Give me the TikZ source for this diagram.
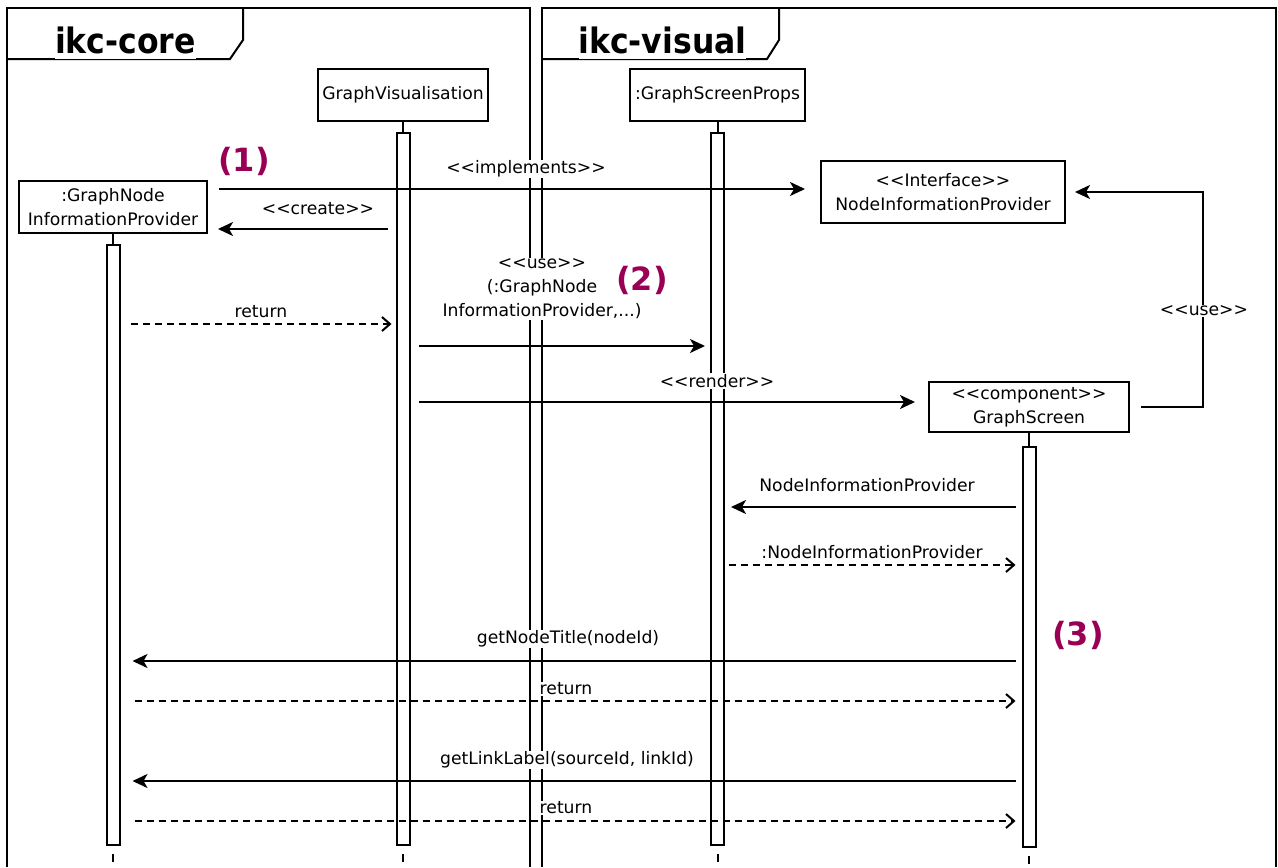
\documentclass[tikz,border=0pt]{standalone}
\usepackage{fontspec}
\setmainfont{DejaVu Sans}[Ligatures=TeXOff]
\newfontfamily\titlefont{DejaVu Sans Condensed Bold}[Ligatures=TeXOff]
\usetikzlibrary{arrows.meta,positioning}
\definecolor{stepred}{RGB}{153,0,85}

\begin{document}
\begin{tikzpicture}[x=0.5pt,y=-0.5pt,
        every node/.style={font=\fontsize{8.6pt}{12pt}\selectfont},
        frame/.style={line width=1pt},
        title/.style={font=\titlefont\fontsize{17.5pt}{20pt}\selectfont, fill=white, inner xsep=0pt, inner ysep=2.5pt, anchor=base},
        head/.style={draw, line width=1pt, fill=white, align=center, inner sep=2pt},
        bar/.style={draw, line width=1pt, fill=white, minimum width=6.5pt, inner sep=0pt, anchor=north},
        lifeline/.style={line width=1pt},
        tail/.style={line width=1pt, dash pattern=on 4pt off 4pt, dash phase=4pt},
        msg/.style={line width=1pt, -{Stealth[length=7.5pt,width=7pt,inset=2pt]}},
        reply/.style={line width=1pt, dash pattern=on 3.5pt off 2.5pt, -{Straight Barb[length=4pt,width=7pt]}},
        lbl/.style={fill=white, inner sep=0.5pt, align=center},
        stepno/.style={text=stepred, font=\bfseries\fontsize{16pt}{18pt}\selectfont}]
    \useasboundingbox (0,0) rectangle (1278,867);

    % packages
    \draw[frame] (7,867) -- (7,8) -- (530,8) -- (530,867);
    \draw[frame] (7,59) -- (230,59) -- (243,40) -- (243,8);
    \draw[frame] (542,867) -- (542,8) -- (1276,8) -- (1276,867);
    \draw[frame] (542,59) -- (767,59) -- (779,40) -- (779,8);
    \node[title] (coretitle) at (125.5,54) {ikc-core};
    \node[title] (visualtitle) at (662.5,54) {ikc-visual};

    % lifelines
    \node[head, minimum width=85pt, minimum height=26pt] (gv) at (403,95) {GraphVisualisation};
    \node[head, minimum width=87.5pt, minimum height=26pt] (gsp) at (717.5,95) {:GraphScreenProps};
    \node[head, minimum width=94pt, minimum height=26pt] (gnip) at (113,207) {:GraphNode\\InformationProvider};
    \node[head, minimum width=122pt, minimum height=31pt] (iface) at (943,192) {<<Interface>>\\NodeInformationProvider};
    \node[head, minimum width=100pt, minimum height=25pt] (gs) at (1029,407) {<<component>>\\GraphScreen};

    \node[bar, minimum height=356pt] (gvbar) at ([yshift=-5pt]gv.south) {};
    \node[bar, minimum height=356pt] (gspbar) at ([yshift=-5pt]gsp.south) {};
    \node[bar, minimum height=300pt] (gnipbar) at ([yshift=-5pt]gnip.south) {};
    \node[bar, minimum height=200pt] (gsbar) at ([yshift=-6.5pt]gs.south) {};

    \draw[lifeline] (gv) -- (gvbar);
    \draw[lifeline] (gsp) -- (gspbar);
    \draw[lifeline] (gnip) -- (gnipbar);
    \draw[lifeline] (gs) -- (gsbar);
    \draw[tail] (gvbar.south) -- ++(0,24);
    \draw[tail] (gspbar.south) -- ++(0,24);
    \draw[tail] (gnipbar.south) -- ++(0,24);
    \draw[tail] (gsbar.south) -- ++(0,22);

    % messages
    \draw[msg, shorten <=5.5pt, shorten >=7.5pt] (gnip.east |- 0,189) -- (iface.west |- 0,189);
    \draw[msg, shorten <=4pt, shorten >=5pt] (gvbar.west |- 0,229) -- (gnip.east |- 0,229);
    \draw[reply, shorten <=5pt, shorten >=2pt] (gnipbar.east |- 0,324) -- (gvbar.west |- 0,324);
    \draw[msg, shorten <=4pt, shorten >=2.5pt] (gvbar.east |- 0,346) -- (gspbar.west |- 0,346);
    \draw[msg, shorten <=4pt, shorten >=6.5pt] (gvbar.east |- 0,402) -- (gs.west |- 0,402);
    \coordinate (useturn) at (1203,192);
    \draw[msg, shorten <=5.5pt, shorten >=4.5pt] (gs.east) -| (useturn) -- (iface.east);
    \draw[msg, shorten <=3pt, shorten >=3pt] (gsbar.west |- 0,507) -- (gspbar.east |- 0,507);
    \draw[reply, shorten <=2pt, shorten >=3pt] (gspbar.east |- 0,565) -- (gsbar.west |- 0,565);
    \draw[msg, shorten <=3pt, shorten >=6pt] (gsbar.west |- 0,661) -- (gnipbar.east |- 0,661);
    \draw[reply, shorten <=7pt, shorten >=3pt] (gnipbar.east |- 0,701) -- (gsbar.west |- 0,701);
    \draw[msg, shorten <=3pt, shorten >=6pt] (gsbar.west |- 0,781) -- (gnipbar.east |- 0,781);
    \draw[reply, shorten <=7pt, shorten >=3pt] (gnipbar.east |- 0,821) -- (gsbar.west |- 0,821);

    % labels
    \node[lbl] (implementslbl) at (526,169) {<<implements>>};
    \node[lbl] (createlbl) at (318,209) {<<create>>};
    \node[lbl] (return1lbl) at (261,312) {return};
    \node[lbl] (uselbl) at (542,289) {<<use>>\\(:GraphNode\\InformationProvider,...)};
    \node[lbl] (renderlbl) at (717,381) {<<render>>};
    \node[lbl] (use2lbl) at (1204,311) {<<use>>};
    \node[lbl] (niplbl) at (867,485) {NodeInformationProvider};
    \node[lbl] (niretlbl) at (872,552) {:NodeInformationProvider};
    \node[lbl] (titlelbl) at (568,639) {getNodeTitle(nodeId)};
    \node[lbl] (return2lbl) at (566,689) {return};
    \node[lbl] (linklbl) at (567,760) {getLinkLabel(sourceId, linkId)};
    \node[lbl] (return3lbl) at (566,808) {return};

    \node[stepno] (step1) at (244,161) {(1)};
    \node[stepno] (step2) at (642,280) {(2)};
    \node[stepno] (step3) at (1078,635) {(3)};
\end{tikzpicture}
\end{document}
